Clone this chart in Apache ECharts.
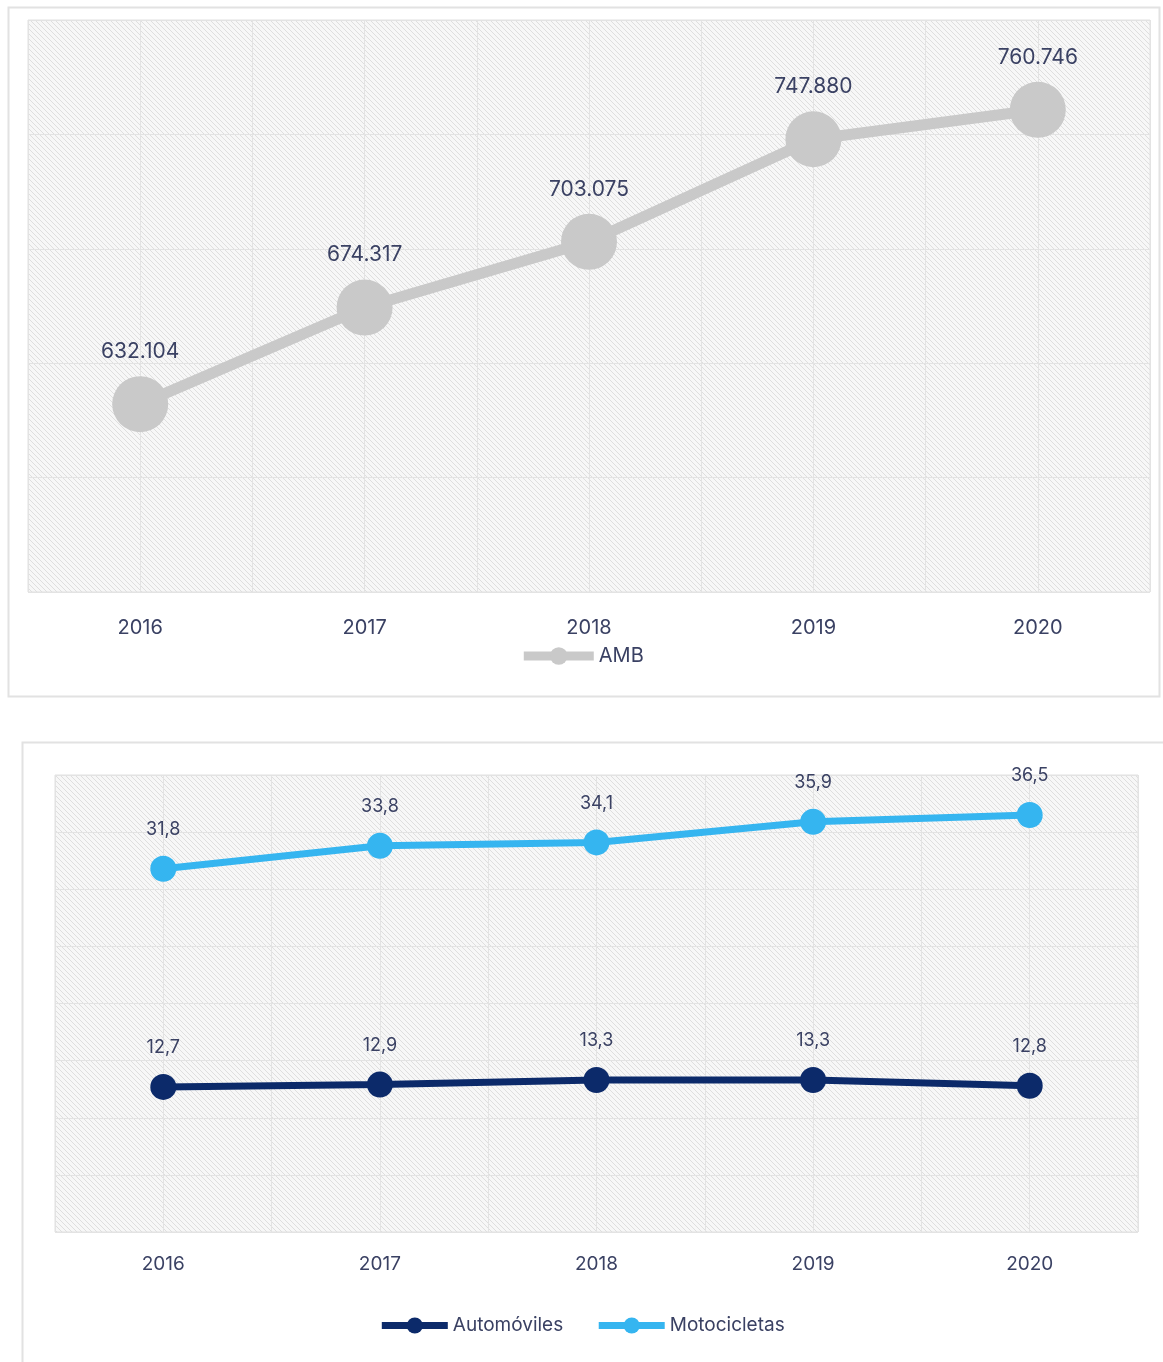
<!DOCTYPE html>
<html>
<head>
<meta charset="utf-8">
<script src="https://cdn.jsdelivr.net/npm/echarts@6/dist/echarts.min.js"></script>
<style>
html,body{margin:0;padding:0;background:#ffffff;}
#c{width:1163px;height:1362px;}
</style>
</head>
<body>
<div id="c"></div>
<script>
// ---- data ----
var years = ['2016', '2017', '2018', '2019', '2020'];
var ambValues = [632104, 674317, 703075, 747880, 760746];
var autoValues = [12.7, 12.9, 13.3, 13.3, 12.8];
var motoValues = [31.8, 33.8, 34.1, 35.9, 36.5];
var topSeriesName = 'AMB';
var bottomSeriesNames = ['Automóviles', 'Motocicletas'];

// ---- hatch pattern for plot background ----
function hatch() {
  var c = document.createElement('canvas');
  c.width = 5; c.height = 5;
  var g = c.getContext('2d');
  g.fillStyle = '#f7f7f7';
  g.fillRect(0, 0, 5, 5);
  g.strokeStyle = '#dedede';
  g.lineWidth = 1;
  g.beginPath();
  g.moveTo(-1, -1); g.lineTo(6, 6);
  g.moveTo(-1, 4); g.lineTo(1, 6);
  g.moveTo(4, -1); g.lineTo(6, 1);
  g.stroke();
  return c;
}
var pat = {image: hatch(), repeat: 'repeat'};

function fmtThousands(v) {
  return String(v).replace(/\B(?=(\d{3})+(?!\d))/g, '.');
}
function fmtDecimal(v) {
  return v.toFixed(1).replace('.', ',');
}

var FONT = 'Inter, "Noto Sans", sans-serif';
var TXT = '#3a4163';
var GRIDC = '#e3e3e3';

var chart = echarts.init(document.getElementById('c'), null, {renderer: 'canvas'});

var option = {
  backgroundColor: '#ffffff',
  animation: false,
  textStyle: {fontFamily: FONT},
  graphic: [
    {type: 'rect', shape: {x: 8.5, y: 7.5, width: 1151, height: 689},
     style: {fill: 'none', stroke: '#e2e2e2', lineWidth: 2}, z: -10},
    {type: 'rect', shape: {x: 22.5, y: 742.5, width: 1160, height: 640},
     style: {fill: 'none', stroke: '#e2e2e2', lineWidth: 2}, z: -10}
  ],
  grid: [
    {left: 28, top: 20, width: 1122, height: 572, show: true,
     backgroundColor: pat, borderColor: '#e0e0e0', borderWidth: 1},
    {left: 55, top: 775, width: 1083, height: 457, show: true,
     backgroundColor: pat, borderColor: '#e0e0e0', borderWidth: 1}
  ],
  legend: [
    {data: [topSeriesName], top: 641, left: 'center', itemWidth: 70, itemHeight: 22,
     itemGap: 30, lineStyle: {width: 9},
     textStyle: {color: TXT, fontSize: 20, fontFamily: FONT}},
    {data: bottomSeriesNames, top: 1311, left: 'center', itemWidth: 66, itemHeight: 20,
     itemGap: 32, lineStyle: {width: 7},
     textStyle: {color: TXT, fontSize: 19, fontFamily: FONT}}
  ],
  xAxis: [
    {type: 'category', gridIndex: 0, data: years, boundaryGap: true,
     axisLine: {show: false}, axisTick: {show: false}, splitLine: {show: false},
     axisLabel: {color: TXT, fontSize: 20, margin: 26, fontFamily: FONT}},
    {type: 'value', gridIndex: 0, min: 0, max: 10, interval: 1, position: 'top',
     axisLine: {show: false}, axisTick: {show: false}, axisLabel: {show: false},
     splitLine: {show: true, lineStyle: {color: GRIDC, width: 1}}},
    {type: 'category', gridIndex: 1, data: years, boundaryGap: true,
     axisLine: {show: false}, axisTick: {show: false}, splitLine: {show: false},
     axisLabel: {color: TXT, fontSize: 19, margin: 23, fontFamily: FONT}},
    {type: 'value', gridIndex: 1, min: 0, max: 10, interval: 1, position: 'top',
     axisLine: {show: false}, axisTick: {show: false}, axisLabel: {show: false},
     splitLine: {show: true, lineStyle: {color: GRIDC, width: 1}}}
  ],
  yAxis: [
    {type: 'value', gridIndex: 0, min: 550000, max: 800000, interval: 50000,
     axisLine: {show: false}, axisTick: {show: false}, axisLabel: {show: false},
     splitLine: {show: true, lineStyle: {color: GRIDC, width: 1}}},
    {type: 'value', gridIndex: 1, min: 0, max: 40, interval: 5,
     axisLine: {show: false}, axisTick: {show: false}, axisLabel: {show: false},
     splitLine: {show: true, lineStyle: {color: GRIDC, width: 1}}}
  ],
  series: [
    {name: topSeriesName, type: 'line', xAxisIndex: 0, yAxisIndex: 0, data: ambValues,
     symbol: 'circle', symbolSize: 56,
     lineStyle: {color: '#c9c9c9', width: 11},
     itemStyle: {color: '#c9c9c9'},
     label: {show: true, position: 'top', distance: 14, color: TXT, fontSize: 21,
       fontFamily: FONT, formatter: function (p) { return fmtThousands(p.value); }}},
    {name: bottomSeriesNames[0], type: 'line', xAxisIndex: 2, yAxisIndex: 1, data: autoValues,
     symbol: 'circle', symbolSize: 26,
     lineStyle: {color: '#0c2a6a', width: 7},
     itemStyle: {color: '#0c2a6a'},
     label: {show: true, position: 'top', distance: 17, color: TXT, fontSize: 18,
       fontFamily: FONT, formatter: function (p) { return fmtDecimal(p.value); }}},
    {name: bottomSeriesNames[1], type: 'line', xAxisIndex: 2, yAxisIndex: 1, data: motoValues,
     symbol: 'circle', symbolSize: 26,
     lineStyle: {color: '#35b5f0', width: 7},
     itemStyle: {color: '#35b5f0'},
     label: {show: true, position: 'top', distance: 17, color: TXT, fontSize: 18,
       fontFamily: FONT, formatter: function (p) { return fmtDecimal(p.value); }}}
  ]
};
chart.setOption(option);
</script>
</body>
</html>
